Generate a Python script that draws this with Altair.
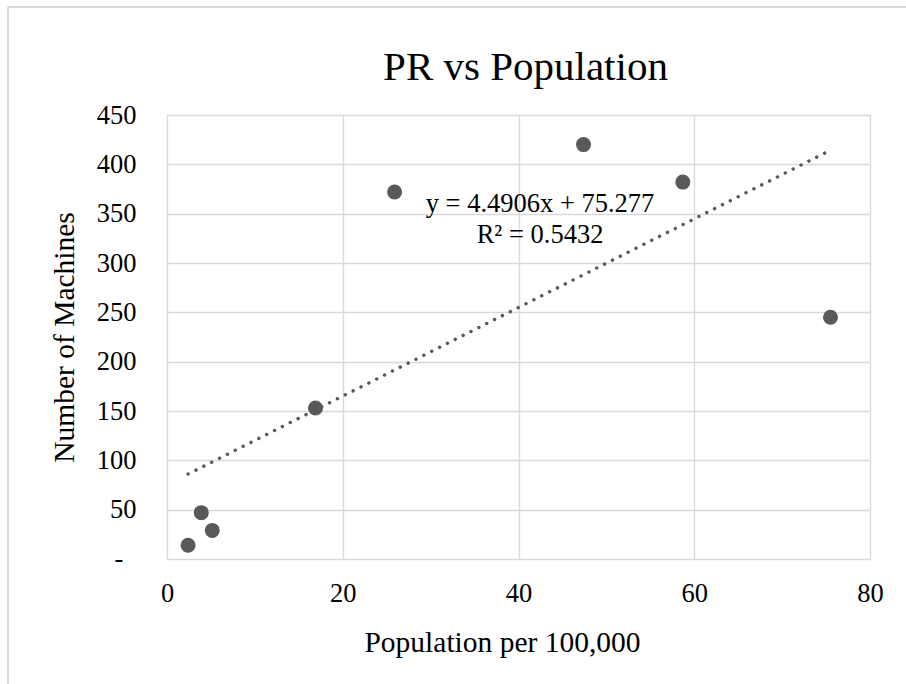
import altair as alt
import pandas as pd

# Population per 100,000 vs number of machines
population = [2.4, 3.9, 5.15, 16.9, 25.9, 47.4, 58.7, 75.5]
machines = [14, 47, 29, 153, 372, 420, 382, 245]

# Linear trendline coefficients
slope = 4.4906
intercept = 75.277
r_squared = 0.5432

x_ticks = [0, 20, 40, 60, 80]
y_ticks = [0, 50, 100, 150, 200, 250, 300, 350, 400, 450]

chart_title = "PR vs Population"

FONT = "Liberation Serif"
GREY = "#595959"
GRID = "#d9d9d9"

points = pd.DataFrame({"pop": population, "machines": machines})

x_lo, x_hi = min(population), max(population)
trend = pd.DataFrame({
    "pop": [x_lo, x_hi],
    "machines": [slope * x_lo + intercept, slope * x_hi + intercept],
})

labels = pd.DataFrame({
    "pop": [42.45, 42.45],
    "machines": [352, 320],
    "text": [f"y = {slope}x + {intercept}", f"R\u00b2 = {r_squared}"],
})

x_scale = alt.Scale(domain=[0, 80], nice=False, zero=False)
y_scale = alt.Scale(domain=[0, 450], nice=False)

x_axis = alt.Axis(
    values=x_ticks, title="Population per 100,000", grid=True, gridColor=GRID,
    gridWidth=1.4, domain=False, ticks=False, tickSize=0, labelFont=FONT,
    labelFontSize=26.5, labelColor="#000000", labelBaseline="alphabetic",
    labelPadding=42, labelFlush=False, titleFont=FONT, titleFontSize=29.5,
    titleFontWeight="normal", titleColor="#000000", titleBaseline="alphabetic",
    titleX=335, titleY=92,
)
# zero is shown as an accounting-style dash, drawn separately below
y_axis = alt.Axis(
    values=y_ticks, title="Number of Machines", grid=True, gridColor=GRID,
    gridWidth=1.4, domain=False, ticks=False, tickSize=0, labelFont=FONT,
    labelFontSize=26.5, labelColor="#000000", labelPadding=31, labelFlush=False,
    labelExpr="datum.value == 0 ? '' : datum.label",
    titleFont=FONT, titleFontSize=29.5, titleFontWeight="normal",
    titleColor="#000000", titleBaseline="alphabetic", titleX=-94, titleY=222,
    titleAngle=270,
)

base_x = alt.X("pop:Q", scale=x_scale, axis=x_axis)
base_y = alt.Y("machines:Q", scale=y_scale, axis=y_axis)

scatter = alt.Chart(points).mark_circle(size=225, color=GREY, opacity=1).encode(
    x=base_x, y=base_y
)

trendline = alt.Chart(trend).mark_line(
    color=GREY, strokeWidth=3.4, strokeDash=[0.1, 8.7], strokeCap="round"
).encode(x=alt.X("pop:Q", scale=x_scale), y=alt.Y("machines:Q", scale=y_scale))

eq_text = alt.Chart(labels).mark_text(
    font=FONT, fontSize=26.5, color="#000000", align="center", baseline="alphabetic"
).encode(
    x=alt.X("pop:Q", scale=x_scale), y=alt.Y("machines:Q", scale=y_scale), text="text:N"
)

zero_dash = alt.Chart(pd.DataFrame({"machines": [0], "t": ["-"]})).mark_text(
    font=FONT, fontSize=26.5, color="#000000", align="center", baseline="middle"
).encode(x=alt.value(-48), y=alt.Y("machines:Q", scale=y_scale), text="t:N")

# Chart title, centred a little right of the plot's midpoint
title_text = alt.Chart(pd.DataFrame({"t": [chart_title]})).mark_text(
    font=FONT, fontSize=41, color="#000000", align="center", baseline="alphabetic"
).encode(x=alt.value(358.5), y=alt.value(-35), text="t:N")

# Chart-area frame (left and top edges)
frame_left = alt.Chart(points).mark_rule(color=GRID, strokeWidth=2).encode(
    x=alt.value(-159), y=alt.value(-108), y2=alt.value(569)
)
frame_top = alt.Chart(points).mark_rule(color=GRID, strokeWidth=2).encode(
    x=alt.value(-159), x2=alt.value(739), y=alt.value(-108)
)

chart = alt.layer(
    frame_left, frame_top, trendline, scatter, eq_text, zero_dash, title_text
).properties(
    width=703,
    height=444,
    autosize=alt.AutoSizeParams(type="none"),
    padding={"left": 167, "top": 115, "right": 36, "bottom": 125},
).configure_view(stroke=None).configure(background="white")

chart.save("out.html", embed_options={"renderer": "svg", "actions": False})
